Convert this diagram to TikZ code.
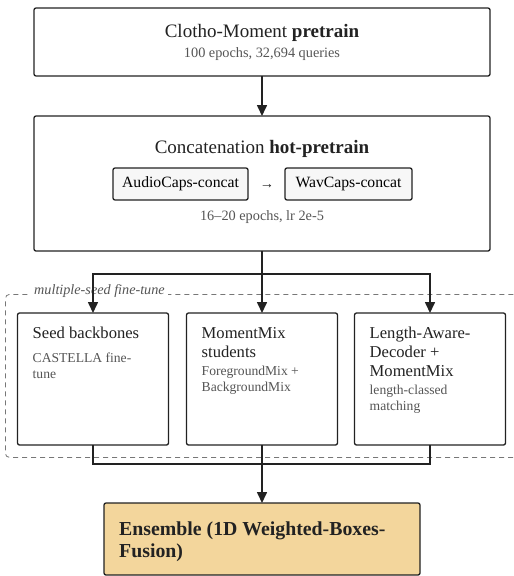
\documentclass[tikz,border=0pt]{standalone}
\usepackage{fontspec}
\setmainfont{Liberation Serif}
\usetikzlibrary{arrows.meta,positioning}
\definecolor{inkc}{HTML}{222222}
\definecolor{subc}{HTML}{555555}
\definecolor{grpc}{HTML}{777777}
\definecolor{innc}{HTML}{F7F7F7}
\definecolor{ensc}{HTML}{F3D69C}

\begin{document}
\begin{tikzpicture}[x=1pt, y=-1pt, node distance=17pt,
	box/.style	= {draw=inkc, line width=1.3pt, rounded corners=2pt, fill=white, inner sep=0pt, outer sep=0pt},
	inbox/.style	= {box, fill=innc, font=\fontsize{15.7}{18}\selectfont},
	ens/.style	= {box, fill=ensc},
	ttl/.style	= {text=inkc, inner sep=0pt, font=\fontsize{19}{22}\selectfont},
	btxt/.style	= {text=inkc, inner sep=0pt, align=left, font=\fontsize{16.6}{19}\selectfont},
	sub/.style	= {text=subc, inner sep=0pt, font=\fontsize{14.3}{17}\selectfont},
	bsub/.style	= {text=subc, inner sep=0pt, align=left, font=\fontsize{13.6}{16}\selectfont},
	grp/.style	= {draw=grpc, line width=0.8pt, dash pattern=on 5pt off 4pt, rounded corners=4pt, inner sep=0pt},
	grplbl/.style	= {text=subc, fill=white, inner xsep=3pt, inner ysep=1pt, font=\fontsize{14.2}{16}\selectfont\itshape},
	wire/.style	= {draw=inkc, line width=1.6pt},
	flow/.style	= {wire, -{Triangle[length=11pt, width=10pt]}}]

	\useasboundingbox (0,0) rectangle (514,576);

	% pretrain
	\node	(pre)	[box, minimum width=456pt, minimum height=68pt]	at (262,42)	{};
	\node	(preT)	[ttl]		at (262,32.5)	{Clotho-Moment \textbf{pretrain}};
	\node	(preS)	[sub]		at (262,54)	{100 epochs, 32,694 queries};

	% hot-pretrain
	\node	(hot)	[box, minimum width=456pt, minimum height=135pt]	at (262,183.5)	{};
	\node	(hotT)	[ttl]		at (262,148.5)	{Concatenation \textbf{hot-pretrain}};
	\node	(ac)	[inbox, minimum width=135pt, minimum height=32pt]	at (180.5,184)	{AudioCaps-concat};
	\node	(wc)	[inbox, minimum width=127pt, minimum height=32pt]	at (348.5,184)	{WavCaps-concat};
	\node	(acwc)	[sub, text=inkc]	at (267,186)	{→};
	\node	(hotS)	[sub]		at (262,217)	{16–20 epochs, lr 2e-5};

	% fine-tune group
	\node	(grp)	[grp, anchor=north west, minimum width=530pt, minimum height=163pt]	at (5,294)	{};
	\node	(grpL)	[grplbl, anchor=west]	at (31,291)	{multiple-seed fine-tune};

	\node	(sb)	[box, anchor=north west, minimum width=151pt, minimum height=132pt]	at (17.5,313)	{};
	\node	(mm)	[box, minimum width=151pt, minimum height=132pt, right=18pt of sb]	{};
	\node	(ld)	[box, minimum width=151pt, minimum height=132pt, right=of mm]	{};

	\node	(sbT)	[btxt, below right=11.7pt and 15pt of sb.north west]	{\strut Seed backbones};
	\node	(sbS)	[bsub, below right=7pt and 0pt of sbT.south west]	{\strut CASTELLA fine-\\tune};
	\node	(mmT)	[btxt, below right=11.7pt and 15pt of mm.north west]	{\strut MomentMix\\students};
	\node	(mmS)	[bsub, below right=7pt and 0pt of mmT.south west]	{\strut ForegroundMix +\\BackgroundMix};
	\node	(ldT)	[btxt, below right=11.7pt and 15pt of ld.north west]	{\strut Length-Aware-\\Decoder +\\MomentMix};
	\node	(ldS)	[bsub, below right=7pt and 0pt of ldT.south west]	{\strut length-classed\\matching};

	% ensemble
	\node	(ens)	[ens, minimum width=316pt, minimum height=72pt]	at (262,539)	{};
	\node	(ensT)	[btxt, font=\fontsize{19.8}{22}\selectfont\bfseries, below right=16.5pt and 15pt of ens.north west]	{\strut Ensemble (1D Weighted-Boxes-\\Fusion)};

	\coordinate	(fork)	at (262,274);
	\coordinate	(join)	at (262,464);

	\draw[flow]	(pre)	-- (hot);
	\draw[wire]	(hot.south)	-- (fork);
	\draw[flow]	(fork)	-| (sb.north);
	\draw[flow]	(fork)	-- (mm.north);
	\draw[flow]	(fork)	-| (ld.north);
	\draw[wire]	(sb.south)	|- (join) -| (ld.south);
	\draw[flow]	(mm.south)	-- (ens.north);

\end{tikzpicture}
\end{document}
